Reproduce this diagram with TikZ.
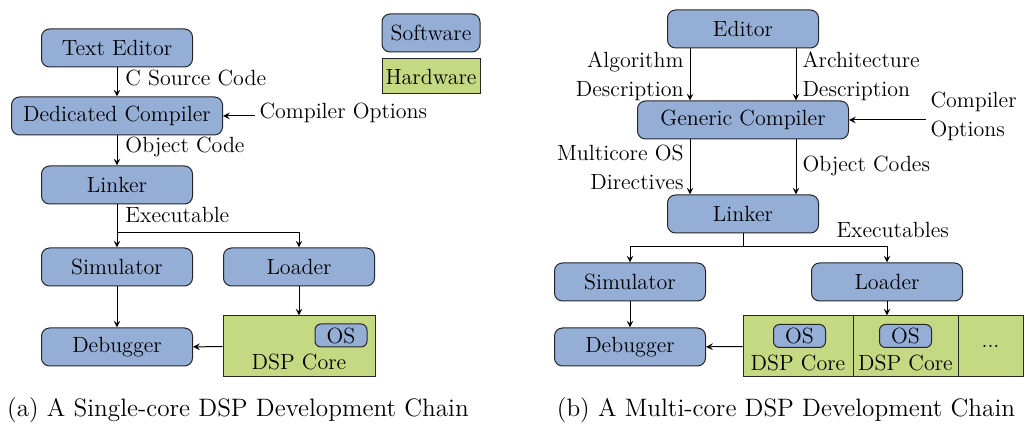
\documentclass[tikz,border=0pt]{standalone}
\definecolor{swblue}{RGB}{148,174,214}
\definecolor{hwgreen}{RGB}{197,217,130}

\begin{document}
\begin{tikzpicture}[x=0.5pt,y=-0.5pt,line width=0.5pt,>=stealth,
  font=\fontsize{11}{14.5}\selectfont,
  sw/.style={draw=black!85,fill=swblue,rounded corners=4pt,minimum width=75.5pt,minimum height=19pt,inner sep=0pt},
  hw/.style={draw=black!85,fill=hwgreen,minimum height=30.5pt,inner sep=0pt},
  os/.style={draw=black!85,fill=swblue,rounded corners=3pt,minimum width=26pt,minimum height=11.5pt,inner sep=0pt},
  lbl/.style={inner sep=2pt},
  captxt/.style={font=\fontsize{12.6}{14}\selectfont}]
    \useasboundingbox (0,0) rectangle (1025,426);

    \node[sw] (editorA) at (117,48) {Text Editor};
    \node[sw,minimum width=105.5pt] (compA) at (117,116) {Dedicated Compiler};
    \node[sw] (linkerA) at (117,185) {Linker};
    \node[sw] (simA) at (117,267) {Simulator};
    \node[sw] (loaderA) at (299,267) {Loader};
    \node[sw] (debugA) at (117,347) {Debugger};
    \node[hw,minimum width=76pt] (coreA) at (299,346.5) {};
    \node[os] (osA) at (341,335.5) {OS};
    \node (coreAtxt) at (299,362) {DSP Core};
    \node[sw,minimum width=49pt] (swkey) at (431,33) {Software};
    \node[hw,minimum width=49pt,minimum height=17.5pt] (hwkey) at (431,76.5) {Hardware};

    \node[lbl,anchor=west] (srcA) at (121,78) {C Source Code};
    \node[lbl,anchor=west] (objA) at (121,147) {Object Code};
    \node[lbl,anchor=west] (exeA) at (121,215) {Executable};
    \node[lbl,anchor=west] (optA) at (255,113) {Compiler Options};

    \draw[->] (editorA) -- (compA);
    \draw[->] (compA) -- (linkerA);
    \draw[->] (optA.west |- compA) -- (compA);
    \coordinate (splitA) at (117,233);
    \draw (linkerA) -- (splitA);
    \draw[->] (splitA) -- (simA);
    \draw[->] (splitA) -| (loaderA);
    \draw[->] (simA) -- (debugA);
    \draw[->] (loaderA) -- (coreA);
    \draw[->] (coreA) -- (debugA);

    \node[sw] (editorB) at (743,29) {Editor};
    \node[sw,minimum width=105.5pt] (compB) at (743,120) {Generic Compiler};
    \node[sw] (linkerB) at (743,214) {Linker};
    \node[sw] (simB) at (630,282) {Simulator};
    \node[sw] (loaderB) at (887,282) {Loader};
    \node[sw] (debugB) at (630,347) {Debugger};
    \node[hw,minimum width=55pt] (coreB1) at (798,346.5) {};
    \node[hw,minimum width=52.5pt] (coreB2) at (905.5,346.5) {};
    \node[hw,minimum width=32.5pt] (coreB3) at (990.5,346.5) {...};
    \node[os] (osB1) at (799.5,336) {OS};
    \node[os] (osB2) at (905.5,336) {OS};
    \node (coreB1txt) at (798,363) {DSP Core};
    \node (coreB2txt) at (905.5,363) {DSP Core};

    \node[lbl,anchor=east,align=right] (algB) at (688,76) {Algorithm\\Description};
    \node[lbl,anchor=west,align=left] (archB) at (798,76) {Architecture\\Description};
    \node[lbl,anchor=east,align=right] (mosB) at (688,167) {Multicore OS\\Directives};
    \node[lbl,anchor=west] (objB) at (798,166) {Object Codes};
    \node[lbl,anchor=west,align=left] (optB) at (926,116) {Compiler\\Options};
    \node[lbl,anchor=west] (exeB) at (832,230) {Executables};

    \draw[->] ([xshift=-26.5pt]editorB.south) -- ([xshift=-26.5pt]compB.north);
    \draw[->] ([xshift=26.5pt]editorB.south) -- ([xshift=26.5pt]compB.north);
    \draw[->] ([xshift=-26.5pt]compB.south) -- ([xshift=-26.5pt]linkerB.north);
    \draw[->] ([xshift=26.5pt]compB.south) -- ([xshift=26.5pt]linkerB.north);
    \draw[->] (optB.west |- compB) -- (compB);
    \coordinate (splitB) at (743,247);
    \draw (linkerB) -- (splitB);
    \draw[->] (splitB) -| (simB);
    \draw[->] (splitB) -| (loaderB);
    \draw[->] (simB) -- (debugB);
    \draw[->] (loaderB) -- (loaderB |- coreB1.north);
    \draw[->] (coreB1) -- (debugB);

    \node[captxt] (capA) at (238,410) {(a) A Single-core DSP Development Chain};
    \node[captxt] (capB) at (786,410) {(b) A Multi-core DSP Development Chain};
\end{tikzpicture}
\end{document}
